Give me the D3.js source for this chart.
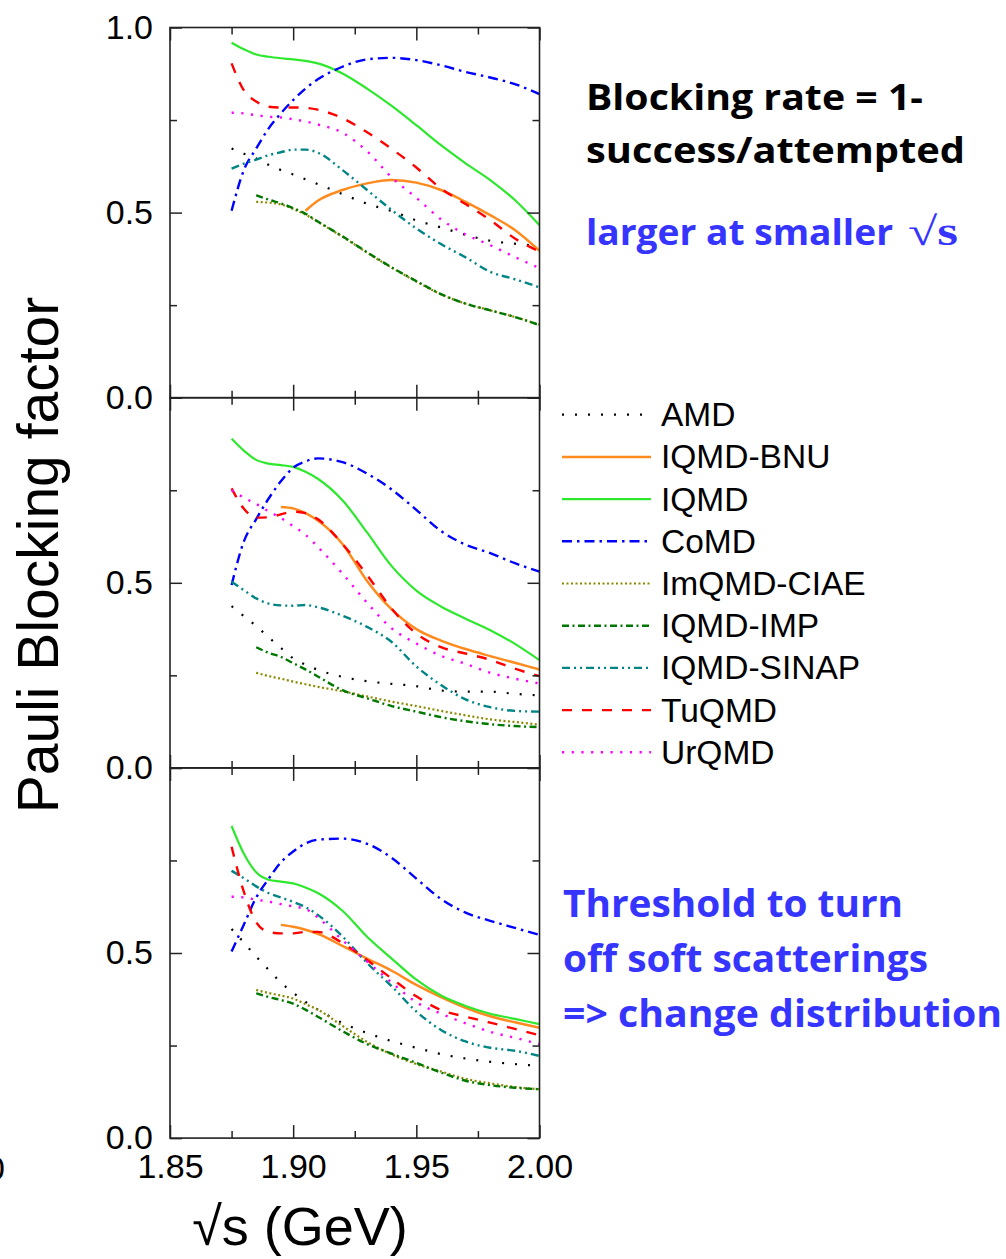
<!DOCTYPE html>
<html>
<head>
<meta charset="utf-8">
<script src="https://cdn.jsdelivr.net/npm/d3@7"></script>
<style>
  body { margin: 0; background: #fff; }
  svg { display: block; }
</style>
</head>
<body>
<svg id="chart" width="1006" height="1259"></svg>
<script>
// sqrt(s) grid (GeV) shared by every curve
const X = [1.875, 1.88, 1.885, 1.89, 1.895, 1.90, 1.905, 1.91, 1.92, 1.93, 1.94, 1.95, 1.96, 1.97, 1.98, 1.99, 2.00];

const seriesNames = ["AMD", "IQMD-BNU", "IQMD", "CoMD", "ImQMD-CIAE", "IQMD-IMP", "IQMD-SINAP", "TuQMD", "UrQMD"];

// Pauli blocking factor, top panel
const panelA = {
  "AMD":        [0.673, 0.659, 0.646, 0.629, 0.615, 0.603, 0.590, 0.577, 0.550, 0.524, 0.504, 0.479, 0.460, 0.440, 0.424, 0.416, 0.410],
  "IQMD-BNU":   [null, null, null, null, null, null, 0.505, 0.532, 0.561, 0.579, 0.588, 0.581, 0.561, 0.529, 0.493, 0.453, 0.397],
  "IQMD":       [0.959, 0.941, 0.927, 0.921, 0.917, 0.914, 0.910, 0.903, 0.876, 0.835, 0.788, 0.736, 0.682, 0.633, 0.588, 0.534, 0.466],
  "CoMD":       [0.505, 0.615, 0.673, 0.727, 0.768, 0.804, 0.835, 0.860, 0.894, 0.914, 0.918, 0.912, 0.898, 0.880, 0.865, 0.847, 0.820],
  "ImQMD-CIAE": [null, null, 0.529, 0.527, 0.522, 0.510, 0.495, 0.475, 0.435, 0.392, 0.351, 0.314, 0.279, 0.254, 0.236, 0.218, 0.197],
  "IQMD-IMP":   [null, null, 0.547, 0.535, 0.525, 0.512, 0.497, 0.476, 0.436, 0.393, 0.352, 0.315, 0.280, 0.254, 0.236, 0.218, 0.196],
  "IQMD-SINAP": [0.619, 0.632, 0.643, 0.655, 0.663, 0.670, 0.670, 0.662, 0.615, 0.561, 0.507, 0.457, 0.415, 0.379, 0.340, 0.320, 0.298],
  "TuQMD":      [0.903, 0.830, 0.800, 0.786, 0.784, 0.784, 0.783, 0.778, 0.755, 0.717, 0.672, 0.622, 0.565, 0.523, 0.480, 0.430, 0.395],
  "UrQMD":      [0.770, 0.768, 0.763, 0.759, 0.757, 0.752, 0.746, 0.738, 0.716, 0.666, 0.595, 0.540, 0.482, 0.441, 0.412, 0.380, 0.350]
};

// middle panel
const panelB = {
  "AMD":        [0.437, 0.410, 0.383, 0.353, 0.324, 0.296, 0.279, 0.265, 0.246, 0.234, 0.227, 0.221, 0.209, 0.206, 0.206, 0.200, 0.196],
  "IQMD-BNU":   [null, null, null, null, 0.705, 0.701, 0.688, 0.668, 0.605, 0.505, 0.428, 0.375, 0.344, 0.321, 0.302, 0.284, 0.266],
  "IQMD":       [0.889, 0.857, 0.832, 0.822, 0.818, 0.813, 0.800, 0.781, 0.723, 0.636, 0.545, 0.479, 0.436, 0.403, 0.372, 0.335, 0.291],
  "CoMD":       [0.494, 0.612, 0.672, 0.727, 0.774, 0.811, 0.828, 0.836, 0.826, 0.795, 0.752, 0.697, 0.640, 0.603, 0.580, 0.553, 0.530],
  "ImQMD-CIAE": [null, null, 0.257, 0.248, 0.241, 0.233, 0.226, 0.219, 0.207, 0.193, 0.179, 0.167, 0.154, 0.142, 0.131, 0.124, 0.117],
  "IQMD-IMP":   [null, null, 0.326, 0.311, 0.300, 0.283, 0.266, 0.247, 0.210, 0.188, 0.167, 0.152, 0.137, 0.126, 0.118, 0.113, 0.110],
  "IQMD-SINAP": [0.503, 0.480, 0.458, 0.444, 0.439, 0.438, 0.440, 0.434, 0.411, 0.381, 0.340, 0.274, 0.224, 0.185, 0.164, 0.154, 0.152],
  "TuQMD":      [0.755, 0.700, 0.676, 0.677, 0.685, 0.692, 0.688, 0.672, 0.605, 0.521, 0.430, 0.363, 0.326, 0.309, 0.292, 0.268, 0.248],
  "UrQMD":      [0.750, 0.730, 0.713, 0.693, 0.675, 0.653, 0.630, 0.597, 0.525, 0.446, 0.377, 0.336, 0.303, 0.281, 0.257, 0.241, 0.228]
};

// bottom panel
const panelC = {
  "AMD":        [0.565, 0.528, 0.490, 0.455, 0.420, 0.393, 0.368, 0.347, 0.311, 0.284, 0.262, 0.244, 0.227, 0.215, 0.206, 0.200, 0.195],
  "IQMD-BNU":   [null, null, null, null, 0.576, 0.571, 0.563, 0.552, 0.519, 0.485, 0.452, 0.414, 0.381, 0.352, 0.329, 0.313, 0.298],
  "IQMD":       [0.843, 0.768, 0.718, 0.698, 0.693, 0.688, 0.677, 0.662, 0.614, 0.544, 0.485, 0.428, 0.385, 0.357, 0.336, 0.322, 0.308],
  "CoMD":       [0.504, 0.577, 0.650, 0.700, 0.745, 0.774, 0.796, 0.806, 0.809, 0.795, 0.757, 0.701, 0.646, 0.609, 0.587, 0.568, 0.549],
  "ImQMD-CIAE": [null, null, 0.400, 0.392, 0.385, 0.377, 0.362, 0.347, 0.303, 0.260, 0.226, 0.200, 0.180, 0.160, 0.148, 0.138, 0.132],
  "IQMD-IMP":   [null, null, 0.391, 0.381, 0.373, 0.363, 0.347, 0.328, 0.289, 0.254, 0.228, 0.203, 0.177, 0.155, 0.143, 0.136, 0.132],
  "IQMD-SINAP": [0.722, 0.702, 0.680, 0.662, 0.650, 0.638, 0.624, 0.603, 0.545, 0.473, 0.410, 0.342, 0.292, 0.261, 0.244, 0.236, 0.222],
  "TuQMD":      [0.787, 0.665, 0.583, 0.557, 0.553, 0.553, 0.557, 0.557, 0.527, 0.481, 0.431, 0.383, 0.346, 0.328, 0.312, 0.295, 0.278],
  "UrQMD":      [0.652, 0.650, 0.644, 0.639, 0.632, 0.626, 0.619, 0.596, 0.535, 0.477, 0.420, 0.367, 0.336, 0.310, 0.287, 0.271, 0.254]
};

const panels = [panelA, panelB, panelC];

// tick values and labels
const xMajorTicks = [1.85, 1.90, 1.95, 2.00];
const xMinorTicks = [1.875, 1.925, 1.975];
const yMajorTicks = [0, 0.5, 1.0];
const yMinorTicks = [0.25, 0.75];

// line styles per model
const seriesStyle = {
  "AMD":        { color: "#000000", dash: "2,11",            width: 2.2 },
  "IQMD-BNU":   { color: "#ff8a1e", dash: null,              width: 2.5 },
  "IQMD":       { color: "#2ee82e", dash: null,              width: 2.2 },
  "CoMD":       { color: "#0000ff", dash: "10,5,2.5,5",      width: 2.4 },
  "ImQMD-CIAE": { color: "#8a8a00", dash: "2,2.5",           width: 2.2 },
  "IQMD-IMP":   { color: "#007800", dash: "7,3.5,2,3.5",     width: 2.4 },
  "IQMD-SINAP": { color: "#008585", dash: "8,4,2,4,2,4",     width: 2.4 },
  "TuQMD":      { color: "#ff0000", dash: "10,10",           width: 2.4 },
  "UrQMD":      { color: "#ff00ff", dash: "2.2,7.5",         width: 2.4 }
};

const svg = d3.select("#chart");

const plotLeft = 170, plotRight = 539.5;
const panelTops = [27.5, 397.7, 767.9];
const panelH = 370.2;

const x = d3.scaleLinear().domain([1.85, 2.00]).range([plotLeft, plotRight]);

const tickFont = "'Liberation Sans', Arial, Helvetica, sans-serif";
const frameColor = "#222";

function styleAxis(g) {
  g.select(".domain").remove();
  g.selectAll(".tick line").attr("stroke", frameColor).attr("stroke-width", 1.5);
  g.selectAll(".tick text")
    .attr("fill", "#000")
    .style("font-family", tickFont)
    .style("font-size", "34px");
  g.attr("font-family", null).attr("font-size", null);
}

panels.forEach((data, pi) => {
  const top = panelTops[pi];
  const bottom = top + panelH;
  const y = d3.scaleLinear().domain([0, 1]).range([bottom, top]);
  const g = svg.append("g").attr("class", "panel");

  const clipId = "clip" + pi;
  svg.append("clipPath").attr("id", clipId)
    .append("rect").attr("x", plotLeft).attr("y", top).attr("width", plotRight - plotLeft).attr("height", panelH);

  // curves
  const line = d3.line()
    .defined(d => d[1] != null)
    .x(d => x(d[0]))
    .y(d => y(d[1]))
    .curve(d3.curveMonotoneX);

  const curves = g.append("g").attr("clip-path", `url(#${clipId})`);
  seriesNames.forEach(name => {
    const st = seriesStyle[name];
    const pts = X.map((xv, i) => [xv, data[name][i]]);
    curves.append("path")
      .datum(pts)
      .attr("d", line)
      .attr("fill", "none")
      .attr("stroke", st.color)
      .attr("stroke-width", st.width)
      .attr("stroke-dasharray", st.dash)
      .attr("stroke-linejoin", "round");
  });

  // ticks on all four sides, pointing inward
  const yFmt = d3.format(".1f");
  const yLabel = d => (pi > 0 && d === 1) ? "" : yFmt(d);

  g.append("g").attr("transform", `translate(${plotLeft},0)`)
    .call(d3.axisLeft(y).tickValues(yMajorTicks).tickSize(-12).tickPadding(17).tickFormat(yLabel))
    .call(styleAxis);
  g.append("g").attr("transform", `translate(${plotLeft},0)`)
    .call(d3.axisLeft(y).tickValues(yMinorTicks).tickSize(-7).tickFormat(""))
    .call(styleAxis);
  g.append("g").attr("transform", `translate(${plotRight},0)`)
    .call(d3.axisRight(y).tickValues(yMajorTicks).tickSize(-12).tickFormat(""))
    .call(styleAxis);
  g.append("g").attr("transform", `translate(${plotRight},0)`)
    .call(d3.axisRight(y).tickValues(yMinorTicks).tickSize(-7).tickFormat(""))
    .call(styleAxis);

  const showX = pi === panels.length - 1;
  g.append("g").attr("transform", `translate(0,${bottom})`)
    .call(d3.axisBottom(x).tickValues(xMajorTicks).tickSize(-13).tickPadding(16)
      .tickFormat(showX ? d3.format(".2f") : ""))
    .call(styleAxis);
  g.append("g").attr("transform", `translate(0,${bottom})`)
    .call(d3.axisBottom(x).tickValues(xMinorTicks).tickSize(-7).tickFormat(""))
    .call(styleAxis);
  g.append("g").attr("transform", `translate(0,${top})`)
    .call(d3.axisTop(x).tickValues(xMajorTicks).tickSize(-13).tickFormat(""))
    .call(styleAxis);
  g.append("g").attr("transform", `translate(0,${top})`)
    .call(d3.axisTop(x).tickValues(xMinorTicks).tickSize(-7).tickFormat(""))
    .call(styleAxis);

  // frame
  g.append("rect")
    .attr("x", plotLeft).attr("y", top)
    .attr("width", plotRight - plotLeft).attr("height", panelH)
    .attr("fill", "none").attr("stroke", frameColor).attr("stroke-width", 1.6);
});

// axis titles
svg.append("text")
  .attr("transform", "translate(58,555) rotate(-90)")
  .attr("text-anchor", "middle")
  .style("font-family", tickFont)
  .style("font-size", "57px")
  .attr("fill", "#000")
  .text("Pauli Blocking factor");

svg.append("text")
  .attr("x", 300).attr("y", 1245)
  .attr("text-anchor", "middle")
  .style("font-family", tickFont)
  .style("font-size", "54px")
  .attr("fill", "#000")
  .text("\u221As (GeV)");

// partial tick label at the far left edge
svg.append("text")
  .attr("x", 5).attr("y", 1180)
  .attr("text-anchor", "end")
  .style("font-family", tickFont)
  .style("font-size", "34px")
  .attr("fill", "#000")
  .text("0");

// legend
const legendX0 = 562, legendX1 = 651, legendTextX = 661, legendY0 = 414.7, legendStep = 42.2;
const legend = svg.append("g").attr("class", "legend");
seriesNames.forEach((name, i) => {
  const st = seriesStyle[name];
  const cy = legendY0 + i * legendStep;
  legend.append("line")
    .attr("x1", legendX0).attr("x2", legendX1)
    .attr("y1", cy).attr("y2", cy)
    .attr("stroke", st.color)
    .attr("stroke-width", st.width)
    .attr("stroke-dasharray", st.dash);
  legend.append("text")
    .attr("x", legendTextX).attr("y", cy + 11.5)
    .style("font-family", tickFont)
    .style("font-size", "33.5px")
    .attr("fill", "#000")
    .text(name);
});

// annotations
const noteFont = "'Open Sans', Lato, 'DejaVu Sans', sans-serif";
function note(txt, xPos, yPos, len, color, size) {
  svg.append("text")
    .attr("x", xPos).attr("y", yPos)
    .attr("textLength", len).attr("lengthAdjust", "spacingAndGlyphs")
    .style("font-family", noteFont)
    .style("font-weight", "bold")
    .style("font-size", size + "px")
    .attr("fill", color)
    .text(txt);
}

note("Blocking rate = 1-", 586, 110, 337, "#000", 35);
note("success/attempted", 586, 163, 379, "#000", 35);
note("larger at smaller", 586, 245, 307, "#3535ff", 35);
svg.append("text")
  .attr("x", 908).attr("y", 245)
  .attr("textLength", 50).attr("lengthAdjust", "spacingAndGlyphs")
  .style("font-family", "'Liberation Serif', 'DejaVu Serif', serif")
  .style("font-weight", "bold")
  .style("font-size", "40px")
  .attr("fill", "#3535ff")
  .text("\u221As");

note("Threshold to turn", 563, 917, 340, "#3535ff", 37);
note("off soft scatterings", 563, 972, 365, "#3535ff", 37);
note("=> change distribution", 563, 1027, 439, "#3535ff", 37);
</script>
</body>
</html>
